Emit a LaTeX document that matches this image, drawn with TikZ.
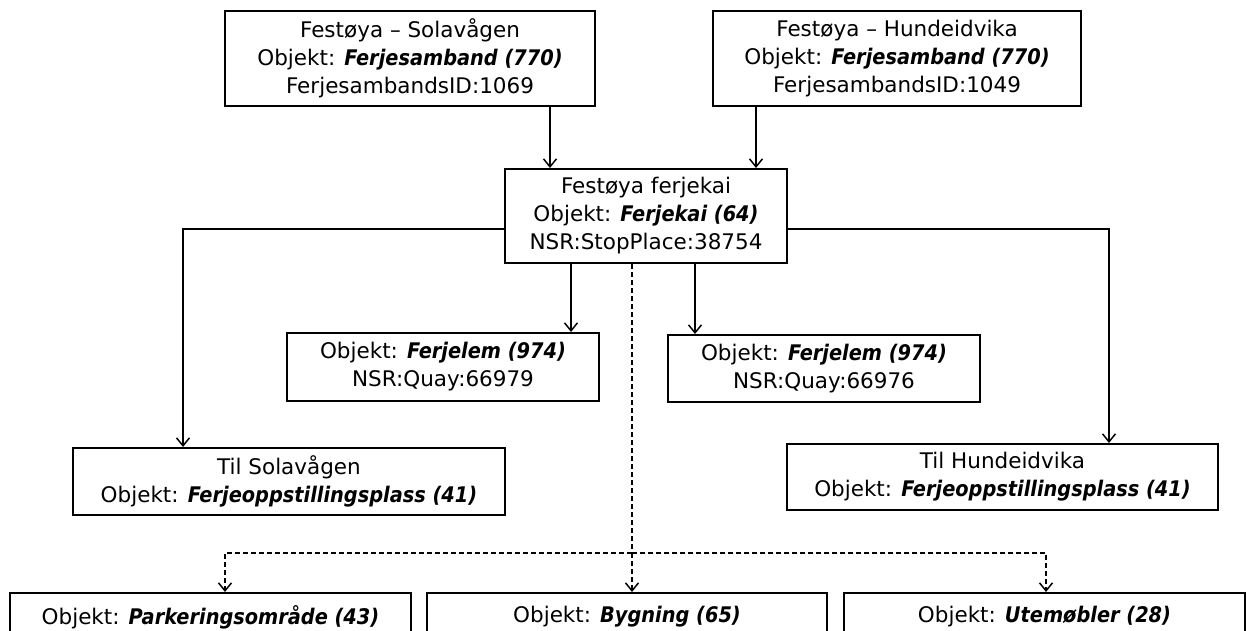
\documentclass[tikz,border=0pt]{standalone}
\usepackage{fontspec}
\setmainfont{DejaVu Sans}
\newfontfamily\bifam{DejaVu Sans}[FakeStretch=0.9]
\usetikzlibrary{arrows.meta}
\newcommand\objn[1]{{\bifam\bfseries\itshape #1}}
\tikzset{
  box/.style={draw, line width=2pt, align=center, inner sep=0pt, text=black,
    font=\fontsize{21.5}{28}\selectfont},
  conn/.style={line width=1.5pt, -{Straight Barb[length=8pt,width=13pt,line width=1.5pt]}},
  dline/.style={line width=1.5pt, dash pattern=on 5pt off 3pt},
  dconn/.style={dline, -{Straight Barb[length=8pt,width=13pt,line width=1.5pt]}}
}
\begin{document}
\begin{tikzpicture}[x=1pt,y=-1pt]
\useasboundingbox (0,0) rectangle (1247,630);
\clip (0,0) rectangle (1247,630);
\node[box, minimum width=370pt, minimum height=95pt] (A) at (410,58.5)
  {Festøya – Solavågen\\Objekt: \objn{Ferjesamband (770)}\\FerjesambandsID:1069};
\node[box, minimum width=368pt, minimum height=95pt] (B) at (897,58.5)
  {Festøya – Hundeidvika\\Objekt: \objn{Ferjesamband (770)}\\FerjesambandsID:1049};
\node[box, minimum width=282pt, minimum height=94pt] (C) at (646,216)
  {Festøya ferjekai\\Objekt: \objn{Ferjekai (64)}\\NSR:StopPlace:38754};
\node[box, minimum width=312pt, minimum height=68pt] (D) at (443,367)
  {Objekt: \objn{Ferjelem (974)}\\NSR:Quay:66979};
\node[box, minimum width=312pt, minimum height=67pt] (E) at (824,368.5)
  {Objekt: \objn{Ferjelem (974)}\\NSR:Quay:66976};
\node[box, minimum width=432pt, minimum height=67pt] (F) at (289,481.5)
  {Til Solavågen\\Objekt: \objn{Ferjeoppstillingsplass (41)}};
\node[box, minimum width=431pt, minimum height=66pt] (G) at (1002.5,477)
  {Til Hundeidvika\\Objekt: \objn{Ferjeoppstillingsplass (41)}};
\node[box, minimum width=401pt, minimum height=48pt] (H) at (210.5,617)
  {Objekt: \objn{Parkeringsområde (43)}};
\node[box, minimum width=400pt, minimum height=48pt] (I) at (627,617)
  {Objekt: \objn{Bygning (65)}};
\node[box, minimum width=401pt, minimum height=48pt] (J) at (1044.5,617)
  {Objekt: \objn{Utemøbler (28)}};
\coordinate (hub) at (632,553);
% connectors
\draw[conn] ([xshift=140pt]A.south) -- ([xshift=140pt]A.south |- C.north);
\draw[conn] ([xshift=-141pt]B.south) -- ([xshift=-141pt]B.south |- C.north);
\draw[conn] ([yshift=-13pt]C.west) -| ([xshift=-106pt]F.north);
\draw[conn] ([yshift=-13pt]C.east) -| ([xshift=106.5pt]G.north);
\draw[conn] ([xshift=-75pt]C.south) -- ([xshift=-75pt]C.south |- D.north);
\draw[conn] ([xshift=49pt]C.south) -- ([xshift=49pt]C.south |- E.north);
\draw[dline] ([xshift=-14pt]C.south) -- (hub);
\draw[dconn] (hub) -| ([xshift=14.5pt]H.north);
\draw[dconn] (hub) -- (hub |- I.north);
\draw[dconn] (hub) -| ([xshift=1.5pt]J.north);
\end{tikzpicture}
\end{document}
